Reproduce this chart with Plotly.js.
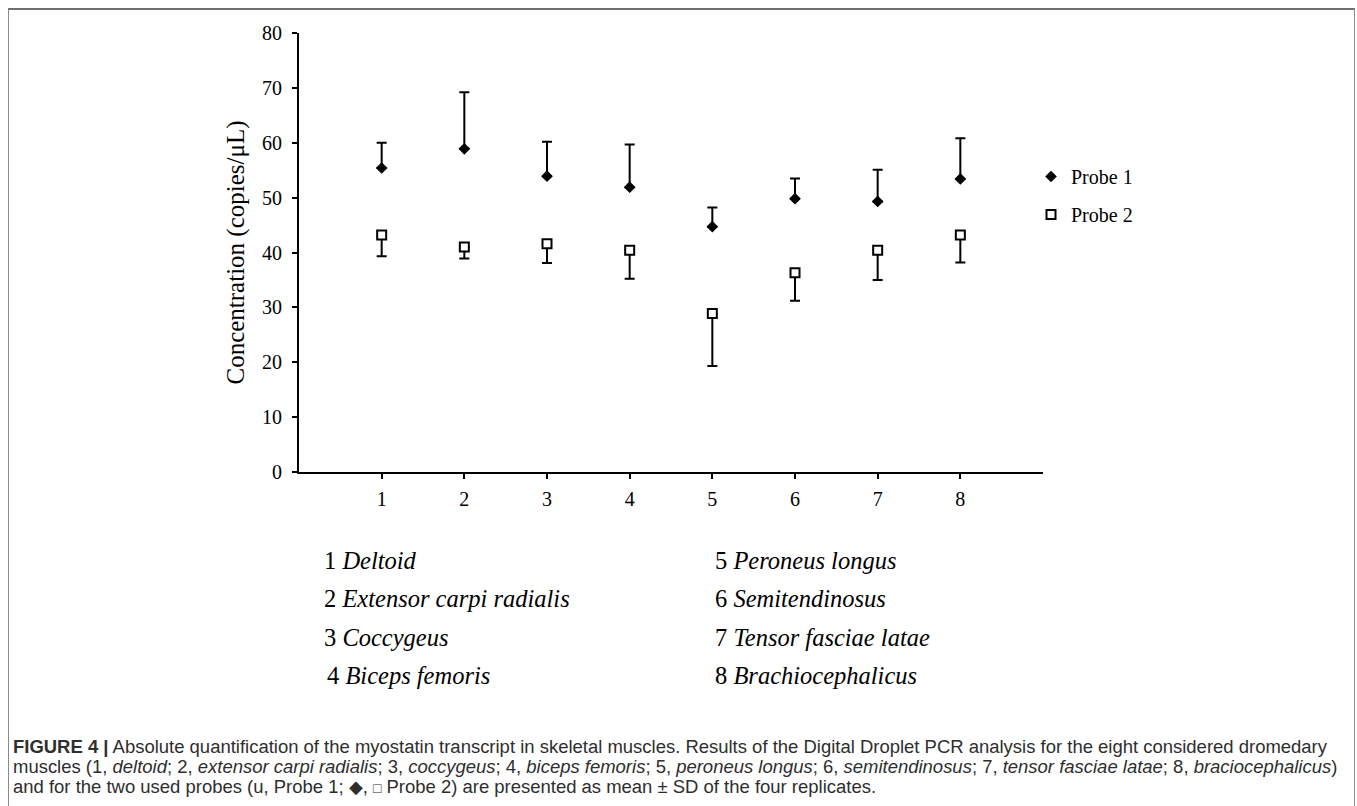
<!DOCTYPE html>
<html>
<head>
<meta charset="utf-8">
<script src="https://cdn.plot.ly/plotly-3.0.1.min.js"></script>
<style>
  html, body { margin: 0; padding: 0; background: #fff; width: 1357px; height: 806px; overflow: hidden; }
  #chart { position: absolute; left: 0; top: 0; width: 1357px; height: 806px; }
  #frame { position: absolute; left: 8px; top: 8px; width: 1345px; height: 820px;
           border-left: 1px solid #8a8a8a; border-right: 1px solid #8a8a8a; border-top: 2px solid #6e6e6e;
           pointer-events: none; }
  .cap { position: absolute; left: 13px; white-space: nowrap; color: #2e2e2e;
         font-family: "Liberation Sans", Arial, Helvetica, sans-serif; font-size: 16px; line-height: 20px; }
  .cap b { font-weight: bold; }
</style>
</head>
<body>
<div id="chart"></div>
<div id="frame"></div>
<div class="cap" id="cap1"><b>FIGURE 4 |</b> Absolute quantification of the myostatin transcript in skeletal muscles. Results of the Digital Droplet PCR analysis for the eight considered dromedary</div>
<div class="cap" id="cap2">muscles (1, <i>deltoid</i>; 2, <i>extensor carpi radialis</i>; 3, <i>coccygeus</i>; 4, <i>biceps femoris</i>; 5, <i>peroneus longus</i>; 6, <i>semitendinosus</i>; 7, <i>tensor fasciae latae</i>; 8, <i>braciocephalicus</i>)</div>
<div class="cap" id="cap3">and for the two used probes (u, Probe 1; &#9670;, <span style="font-size:75%">&#9633;</span> Probe 2) are presented as mean &#177; SD of the four replicates.</div>
<script>
// ---- data ----
var muscles = [1, 2, 3, 4, 5, 6, 7, 8];
var tickLabels = ['1', '2', '3', '4', '5', '6', '7', '8'];
var muscleNames = ['Deltoid', 'Extensor carpi radialis', 'Coccygeus', 'Biceps femoris',
                   'Peroneus longus', 'Semitendinosus', 'Tensor fasciae latae', 'Brachiocephalicus'];
var probe1Mean = [55.4, 58.9, 53.9, 51.9, 44.7, 49.8, 49.3, 53.4];
var probe1SD   = [4.6, 10.3, 6.3, 7.8, 3.5, 3.7, 5.8, 7.4];
var probe2Mean = [43.2, 41.0, 41.6, 40.4, 28.9, 36.3, 40.4, 43.2];
var probe2SD   = [3.9, 2.1, 3.5, 5.2, 9.6, 5.1, 5.4, 5.0];
var yTicks = [0, 10, 20, 30, 40, 50, 60, 70, 80];

// ---- layout helpers (pixel -> paper) ----
var W = 1357, H = 806;
var M = {l: 299, r: 314, t: 33, b: 334};
var pw = W - M.l - M.r, ph = H - M.t - M.b;
function px(x) { return (x - M.l) / pw; }
function py(y) { return (H - M.b - y) / ph; }

var serif = 'Liberation Serif, Times New Roman, serif';

var traces = [
  {
    type: 'scatter', mode: 'markers', name: 'Probe 1', legendgroup: 'p1',
    x: muscles, y: probe1Mean,
    marker: {symbol: 'diamond', size: 9, color: '#000', line: {width: 0}},
    error_y: {type: 'data', symmetric: false, array: probe1SD, arrayminus: [],
              color: '#000', thickness: 2, width: 5}
  },
  {
    type: 'scatter', mode: 'markers', name: 'Probe 2', legendgroup: 'p2',
    x: muscles, y: probe2Mean,
    marker: {symbol: 'square', size: 9, color: '#fff', line: {width: 2, color: '#000'}},
    error_y: {type: 'data', symmetric: false, array: [], arrayminus: probe2SD,
              color: '#000', thickness: 2, width: 5}
  }
];

var annotations = [];
var colX = [322, 322, 322, 325, 713, 713, 713, 713];
var rowY = [560, 598, 637, 675, 560, 598, 637, 675];
for (var i = 0; i < muscleNames.length; i++) {
  annotations.push({
    xref: 'paper', yref: 'paper', x: px(colX[i]), y: py(rowY[i]),
    xanchor: 'left', yanchor: 'middle', showarrow: false,
    text: tickLabels[i] + ' <i>' + muscleNames[i] + '</i>',
    font: {family: serif, size: 24.5, color: '#000'}
  });
}

var layout = {
  width: W, height: H,
  margin: M,
  paper_bgcolor: 'rgba(0,0,0,0)', plot_bgcolor: 'rgba(0,0,0,0)',
  font: {family: serif, color: '#000'},
  showlegend: true,
  legend: {
    x: px(1031), y: py(157), xanchor: 'left', yanchor: 'top',
    font: {family: serif, size: 20, color: '#000'},
    itemwidth: 30, traceorder: 'grouped', tracegroupgap: 9,
    bgcolor: 'rgba(0,0,0,0)', borderwidth: 0
  },
  xaxis: {
    range: [0, 9], tickvals: muscles, ticktext: tickLabels,
    ticks: 'outside', ticklen: 5, tickwidth: 2, tickcolor: '#000',
    showline: true, linewidth: 2, linecolor: '#000',
    showgrid: false, zeroline: false, fixedrange: true,
    tickfont: {family: serif, size: 20, color: '#000'},
    ticklabelstandoff: 3
  },
  yaxis: {
    range: [0, 80], tickvals: yTicks,
    ticks: 'outside', ticklen: 5, tickwidth: 2, tickcolor: '#000',
    showline: true, linewidth: 2, linecolor: '#000',
    showgrid: false, zeroline: false, fixedrange: true,
    tickfont: {family: serif, size: 20, color: '#000'},
    ticklabelstandoff: 6,
    title: {text: 'Concentration (copies/μL)', font: {family: serif, size: 25, color: '#000'}, standoff: 10}
  },
  annotations: annotations
};

Plotly.newPlot('chart', traces, layout, {displayModeBar: false, staticPlot: true});

// caption: fit line 1 to the measured width in the figure
(function () {
  var c1 = document.getElementById('cap1');
  var target = 1315;
  var w = c1.getBoundingClientRect().width;
  var size = 16 * target / w;
  var caps = ['cap1', 'cap2', 'cap3'];
  var centers = [747, 767, 787];
  for (var k = 0; k < caps.length; k++) {
    var el = document.getElementById(caps[k]);
    el.style.fontSize = size.toFixed(2) + 'px';
    el.style.top = (centers[k] - 10) + 'px';
  }
})();
</script>
</body>
</html>
